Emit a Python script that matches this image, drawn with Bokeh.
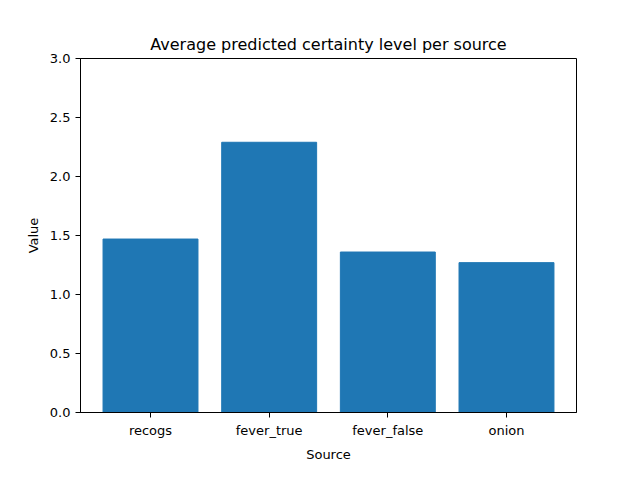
from bokeh.plotting import figure
from bokeh.models import FixedTicker, Range1d, ColumnDataSource, NumeralTickFormatter
from bokeh.embed import file_html
from bokeh.resources import INLINE

sources = ["recogs", "fever_true", "fever_false", "onion"]
values = [1.47, 2.29, 1.36, 1.27]
xs = list(range(len(sources)))

p = figure(width=624, height=464, output_backend="svg", toolbar_location=None,
           x_range=Range1d(-0.59, 3.59), y_range=Range1d(0, 3.0),
           title="Average predicted certainty level per source",
           min_border_left=80, min_border_right=48, min_border_top=58, min_border_bottom=37)
src = ColumnDataSource(dict(x=xs, top=values))
p.vbar(x="x", top="top", width=0.8, bottom=0, source=src, color="#1f77b4")

p.xaxis.ticker = FixedTicker(ticks=xs)
p.xaxis.major_label_overrides = {i: s for i, s in enumerate(sources)}
p.yaxis.ticker = FixedTicker(ticks=[0, 0.5, 1.0, 1.5, 2.0, 2.5, 3.0])
p.yaxis.formatter = NumeralTickFormatter(format="0.0")
p.xaxis.axis_label = "Source"
p.yaxis.axis_label = "Value"
for ax in (p.xaxis[0], p.yaxis[0]):
    ax.axis_label_text_font_style = "normal"
    ax.axis_label_text_font = "DejaVu Sans"
    ax.axis_label_text_font_size = "13px"
    ax.axis_label_text_color = "black"
    ax.axis_label_standoff = 6
    ax.major_label_text_font = "DejaVu Sans"
    ax.major_label_text_font_size = "13px"
    ax.major_label_text_color = "black"
    ax.minor_tick_line_color = None
    ax.major_tick_in = 0
    ax.major_tick_out = 5
    ax.axis_line_color = "black"
    ax.major_tick_line_color = "black"
p.xgrid.grid_line_color = None
p.ygrid.grid_line_color = None
p.outline_line_color = "black"
p.outline_line_alpha = 1
p.title.align = "center"
p.title.text_font = "DejaVu Sans"
p.title.text_font_style = "normal"
p.title.text_font_size = "16px"
p.title.text_color = "black"

open("out.html", "w").write(file_html(p, INLINE))
